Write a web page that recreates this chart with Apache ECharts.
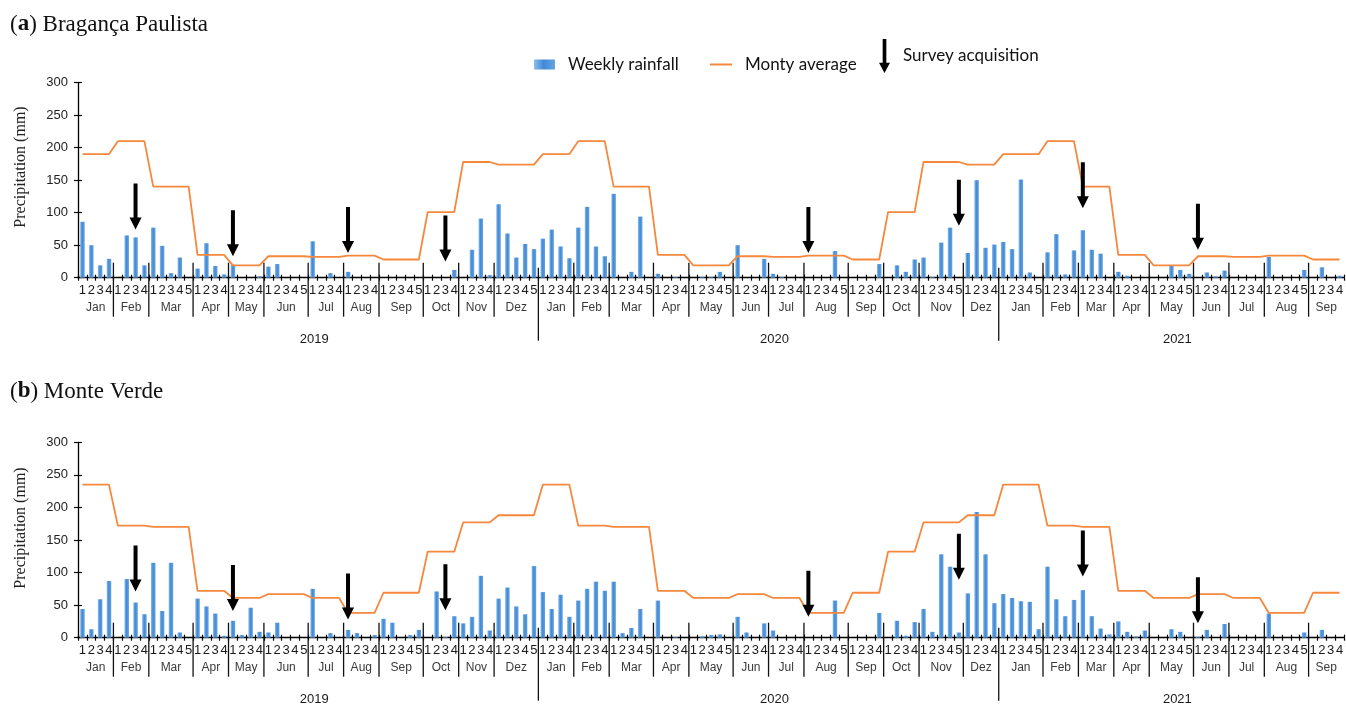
<!DOCTYPE html>
<html>
<head>
<meta charset="utf-8">
<script src="https://cdn.jsdelivr.net/npm/echarts/dist/echarts.min.js"></script>
<style>
html, body { margin: 0; padding: 0; background: #fff; }
#chart { width: 1346px; height: 708px; }
</style>
</head>
<body>
<div id="chart"></div>
<script>
// ---- data ----
var monthNames = ['Jan', 'Feb', 'Mar', 'Apr', 'May', 'Jun', 'Jul', 'Aug', 'Sep', 'Oct', 'Nov', 'Dez'];
var years = ['2019', '2020', '2021'];
// weeks in each month, Jan 2019 .. Sep 2021
var weeksPerMonth = [
  4, 4, 5, 4, 4, 5, 4, 4, 5, 4, 4, 5,
  4, 4, 5, 4, 5, 4, 4, 5, 4, 4, 5, 4,
  5, 4, 4, 4, 5, 4, 4, 5, 4
];
// monthly average (mm), Jan..Dez
var avgBraganca = [190, 210, 140, 35, 19, 33, 32, 34, 28, 101, 178, 174];
var avgMonteVerde = [235, 172, 170, 72, 61, 67, 61, 38, 69, 132, 177, 188];

// weekly rainfall (mm)
var rainBraganca = [
  86, 50, 19, 29,  0, 65, 62, 19,  77, 49, 7, 31, 0,  14, 53, 18, 5,  20, 0, 0, 2,  17, 21, 0, 0, 0,
  56, 0, 7, 0,  9, 0, 0, 0,  0, 0, 0, 0, 0,  0, 0, 0, 12,  0, 43, 91, 4,  113, 68, 31, 52, 44,
  60, 74, 48, 30,  77, 109, 48, 33,  129, 0, 9, 94, 0,  6, 0, 1, 0,  0, 1, 1, 9, 0,  50, 0, 0, 29,
  6, 1, 0, 0,  0, 0, 0, 41, 0,  0, 0, 0, 21,  0, 19, 9, 28,  31, 1, 54, 77, 0,  38, 150, 46, 51,
  55, 44, 151, 8, 0,  39, 67, 5, 42,  73, 43, 37, 0,  9, 3, 0, 0,  0, 0, 18, 12, 6,  0, 8, 2, 11,
  0, 0, 0, 0,  32, 0, 0, 0, 12,  0, 16, 0, 3
];
var rainMonteVerde = [
  44, 13, 59, 87,  0, 90, 54, 36,  115, 41, 115, 8, 0,  60, 48, 37, 3,  26, 4, 46, 9,  8, 23, 0, 0, 0,
  75, 0, 7, 0,  12, 7, 0, 4,  29, 23, 0, 4, 12,  0, 71, 1, 33,  22, 32, 95, 11,  60, 77, 48, 36, 110,
  70, 44, 66, 32,  57, 75, 86, 72,  86, 7, 15, 44, 0,  57, 0, 1, 0,  0, 2, 4, 5, 0,  32, 8, 0, 22,
  11, 0, 0, 0,  0, 0, 0, 57, 0,  0, 0, 0, 38,  0, 26, 3, 24,  44, 9, 128, 109, 8,  68, 193, 128, 53,
  67, 61, 56, 55, 13,  109, 59, 33, 58,  73, 33, 14, 5,  25, 9, 2, 11,  0, 0, 13, 9, 0,  1, 12, 0, 21,
  0, 0, 0, 0,  37, 0, 0, 0, 8,  0, 12, 0, 0
];

// survey acquisition: week index and arrow tip (mm)
var surveyWeeks = [6, 17, 30, 41, 82, 99, 113, 126];
var surveyTipBraganca = [74, 33, 38, 25, 38, 80, 107, 43];
var surveyTipMonteVerde = [71, 41, 28, 42, 32, 89, 94, 22];

// ---- derived ----
var weekCats = [], weekMonth = [], monthSpans = [], yearSpans = [];
var n = 0;
weeksPerMonth.forEach(function (c, m) {
  monthSpans.push([n, 0, n + c, m]);
  for (var w = 1; w <= c; w++) {
    weekCats.push(m + '-' + w);
    weekMonth.push(m);
  }
  n += c;
});
years.forEach(function (y, k) {
  var a = monthSpans[k * 12];
  var b = monthSpans[Math.min(k * 12 + 11, monthSpans.length - 1)];
  yearSpans.push([a[0], 0, b[2], k]);
});

var font = 'Liberation Sans';
var arrowPath = 'path://M4,0L8,0L8,34L12,34L6,46L0,34L4,34Z';
var legendArrow = 'path://M4,0L8,0L8,26L12,26L6,37L0,26L4,26Z';
var barColor = new echarts.graphic.LinearGradient(0, 0, 1, 0, [
  { offset: 0, color: '#8dbdea' },
  { offset: 0.45, color: '#4089d6' },
  { offset: 1, color: '#67a4e1' }
]);
var orange = '#f5883d';

var chart = echarts.init(document.getElementById('chart'));

function xAxes(gi) {
  return [{
    type: 'category', gridIndex: gi, data: weekCats, position: 'bottom',
    axisLine: { show: true, lineStyle: { color: '#000', width: 1.3 } },
    axisTick: { show: true, interval: 0, length: 3, lineStyle: { color: '#000', width: 1.2 } },
    axisLabel: {
      interval: 0, margin: 6, fontSize: 13, fontFamily: font, color: '#1a1a1a',
      formatter: function (v) { return v.split('-')[1]; }
    },
    splitLine: { show: false }
  }, {
    type: 'category', gridIndex: gi, data: weekCats, position: 'bottom', offset: 0,
    axisLine: { show: false },
    axisTick: { show: true, inside: true, interval: 0, length: 3, lineStyle: { color: '#000', width: 1.2 } },
    axisLabel: { show: false },
    splitLine: { show: false }
  }];
}

function yAxes(gi) {
  return [{
    type: 'value', gridIndex: gi, min: 0, max: 300, interval: 50, position: 'left',
    axisLine: { show: true, lineStyle: { color: '#000', width: 1.3 } },
    axisTick: { show: true, length: 4, lineStyle: { color: '#000', width: 1.2 } },
    axisLabel: { margin: 10, fontSize: 13, fontFamily: font, color: '#222' },
    splitLine: { show: false }
  }, {
    type: 'value', gridIndex: gi, min: 0, max: 300, interval: 50, position: 'left', offset: 0,
    axisLine: { show: false },
    axisTick: { show: true, inside: true, length: 4, lineStyle: { color: '#000', width: 1.2 } },
    axisLabel: { show: false },
    splitLine: { show: false }
  }];
}

function monthDeco(ai) {
  return {
    type: 'custom', xAxisIndex: ai, yAxisIndex: ai, silent: true, clip: false, z: 6,
    data: monthSpans, encode: { x: 0, y: 1 },
    renderItem: function (params, api) {
      var s = api.value(0), e = api.value(2), k = api.value(3);
      var band = api.size([1, 0])[0];
      var a = api.coord([s, 0]);
      var xL = a[0] - band / 2;
      var xR = api.coord([e - 1, 0])[0] + band / 2;
      var y0 = a[1];
      var kids = [{
        type: 'text',
        style: {
          text: monthNames[k % 12], x: (xL + xR) / 2, y: y0 + 29.5,
          align: 'center', verticalAlign: 'middle',
          fontSize: 12, fontFamily: font, fill: '#3a3a3a'
        }
      }];
      if (s > 0 && k % 12 !== 0) {
        kids.push({
          type: 'line', shape: { x1: xL, y1: y0 - 15, x2: xL, y2: y0 + 39 },
          style: { stroke: '#111', lineWidth: 1.3 }
        });
      }
      return { type: 'group', children: kids };
    }
  };
}

function yearDeco(ai) {
  return {
    type: 'custom', xAxisIndex: ai, yAxisIndex: ai, silent: true, clip: false, z: 6,
    data: yearSpans, encode: { x: 0, y: 1 },
    renderItem: function (params, api) {
      var s = api.value(0), e = api.value(2), k = api.value(3);
      var band = api.size([1, 0])[0];
      var a = api.coord([s, 0]);
      var xL = a[0] - band / 2;
      var xR = api.coord([e - 1, 0])[0] + band / 2;
      var y0 = a[1];
      var kids = [{
        type: 'text',
        style: {
          text: years[k], x: (xL + xR) / 2 + 6, y: y0 + 62,
          align: 'center', verticalAlign: 'middle',
          fontSize: 13, fontFamily: font, fill: '#1a1a1a'
        }
      }];
      if (s > 0) {
        kids.push({
          type: 'line', shape: { x1: xL, y1: y0 - 10, x2: xL, y2: y0 + 63 },
          style: { stroke: '#111', lineWidth: 1.3 }
        });
      }
      return { type: 'group', children: kids };
    }
  };
}

function panelSeries(gi, rain, avg, tips) {
  var ai = gi * 2;
  return [{
    name: 'Weekly rainfall', type: 'bar', xAxisIndex: ai, yAxisIndex: ai,
    data: rain, barWidth: 4.5, itemStyle: { color: barColor }, z: 2
  }, {
    name: 'Monty average', type: 'line', xAxisIndex: ai, yAxisIndex: ai,
    data: weekMonth.map(function (m) { return avg[m % 12]; }),
    symbol: 'none', showSymbol: false,
    lineStyle: { color: orange, width: 1.8 }, itemStyle: { color: orange }, z: 3
  }, {
    name: 'Survey acquisition', type: 'scatter', xAxisIndex: ai, yAxisIndex: ai,
    data: surveyWeeks.map(function (w, k) { return [w, tips[k]]; }),
    symbol: arrowPath, symbolSize: [12, 46], symbolOffset: [0, '-50%'],
    itemStyle: { color: '#000', opacity: 1 }, z: 4
  }, monthDeco(ai), yearDeco(ai)];
}

var legendText = { fontFamily: 'Lato', fontSize: 17, color: '#111', padding: [0, 0, 0, 8] };
var titleRich = {
  p: { fontFamily: 'Liberation Serif', fontSize: 23, fontWeight: 'normal', color: '#111' },
  b: { fontFamily: 'Liberation Serif', fontSize: 23, fontWeight: 'bold', color: '#111' }
};

var option = {
  animation: false,
  backgroundColor: '#fff',
  title: [{
    text: '{p|(}{b|a}{p|) Bragança Paulista}', left: 10, top: 13, padding: 0,
    textStyle: { fontWeight: 'normal', rich: titleRich }
  }, {
    text: '{p|(}{b|b}{p|) Monte Verde}', left: 10, top: 380, padding: 0,
    textStyle: { fontWeight: 'normal', rich: titleRich }
  }],
  legend: [{
    data: ['Weekly rainfall'], left: 534, top: 56, padding: 0, icon: 'rect',
    itemWidth: 21, itemHeight: 10, selectedMode: false, textStyle: legendText
  }, {
    data: [{ name: 'Monty average', icon: 'rect', itemStyle: { color: orange } }], left: 710, top: 56, padding: 0,
    itemWidth: 22, itemHeight: 2, selectedMode: false, textStyle: legendText
  }, {
    data: [{ name: 'Survey acquisition', icon: legendArrow, itemStyle: { color: '#000', opacity: 1 } }],
    left: 879, top: 39, padding: 0, itemWidth: 11, itemHeight: 37, selectedMode: false,
    textStyle: { fontFamily: 'Lato', fontSize: 17, color: '#111', padding: [20, 0, 0, 8] }
  }],
  graphic: [{
    type: 'text', x: 21, y: 167, rotation: Math.PI / 2,
    style: { text: 'Precipitation (mm)', fontFamily: 'Liberation Serif', fontSize: 16, fill: '#222', align: 'center', verticalAlign: 'middle' }
  }, {
    type: 'text', x: 21, y: 528, rotation: Math.PI / 2,
    style: { text: 'Precipitation (mm)', fontFamily: 'Liberation Serif', fontSize: 16, fill: '#222', align: 'center', verticalAlign: 'middle' }
  }],
  grid: [
    { left: 78, top: 82.7, width: 1266, height: 195, outerBoundsMode: 'none', containLabel: false },
    { left: 78, top: 442.3, width: 1266, height: 195.4, outerBoundsMode: 'none', containLabel: false }
  ],
  xAxis: xAxes(0).concat(xAxes(1)),
  yAxis: yAxes(0).concat(yAxes(1)),
  series: panelSeries(0, rainBraganca, avgBraganca, surveyTipBraganca)
    .concat(panelSeries(1, rainMonteVerde, avgMonteVerde, surveyTipMonteVerde))
};

chart.setOption(option);
window.addEventListener('resize', function () { chart.resize(); });
</script>
</body>
</html>
